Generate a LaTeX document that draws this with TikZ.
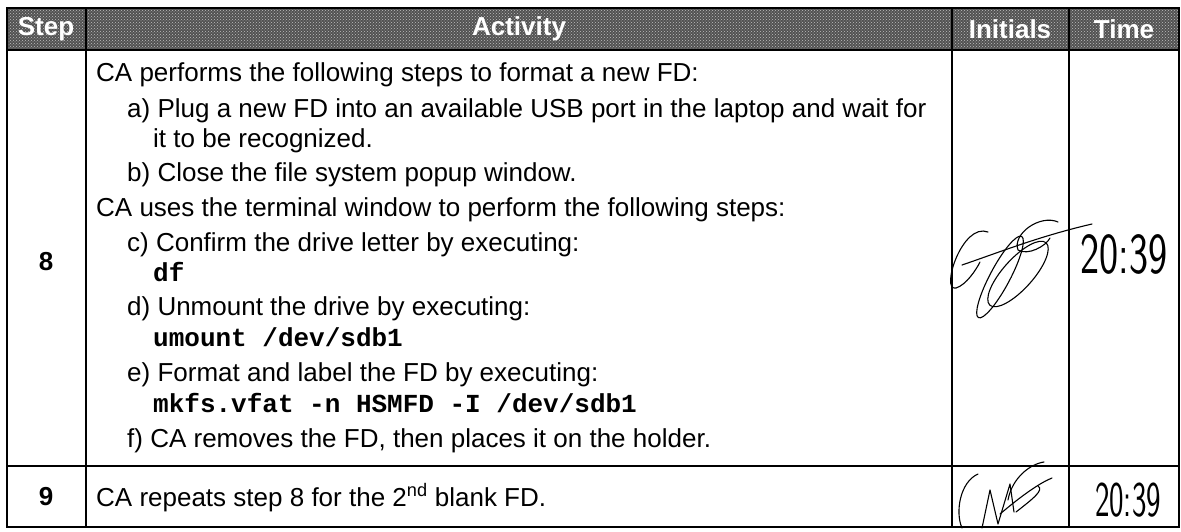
\documentclass[tikz,border=0pt]{standalone}
\usepackage{fontspec}
\setmainfont{Liberation Sans}
\setmonofont{Liberation Mono}
\usetikzlibrary{patterns}
\begin{document}
\begin{tikzpicture}[x=1pt,y=-1pt,
  body/.style={anchor=base west, inner sep=0pt, font=\fontsize{26}{30}\selectfont},
  code/.style={anchor=base west, inner sep=0pt, font=\fontsize{26}{30}\ttfamily\bfseries},
  head/.style={text=white, inner sep=0pt, font=\fontsize{26}{30}\bfseries},
  stepno/.style={inner sep=0pt, font=\fontsize{26}{30}\bfseries},
  rule/.style={line width=1.6pt},
  hand/.style={line width=1.1pt, line cap=round, line join=round},
  handtext/.style={inner sep=0pt, xscale=0.7, font=\fontsize{58}{58}\sffamily}]
\useasboundingbox (0,0) rectangle (1181,531);
% header band (halftone look)
\fill[black!68] (7,8) rectangle (1179,50);
\fill[pattern=crosshatch dots, pattern color=black!25] (7,8) rectangle (1179,50);
% table rules
\draw[rule] (7,8) rectangle (1179,527);
\draw[rule] (7,50) -- (1179,50);
\draw[rule] (7,466) -- (1179,466);
\draw[rule] (86,8) -- (86,527);
\draw[rule] (952,8) -- (952,527);
\draw[rule] (1069,8) -- (1069,527);
% header texts
\node[head] (hstep) at (46,29) {Step};
\node[head] (hact) at (519,29) {Activity};
\node[head] (hini) at (1010,29) {Initials};
\node[head] (htime) at (1124,29) {Time};
% step numbers
\node[stepno] (s8) at (46,262) {8};
\node[stepno] (s9) at (46,497) {9};
% activity of step 8
\node[body] (l1) at (96,81) {CA performs the following steps to format a new FD:};
\node[body] (l2) at (127,117) {a) Plug a new FD into an available USB port in the laptop and wait for};
\node[body] (l3) at (153,147) {it to be recognized.};
\node[body] (l4) at (127,181) {b) Close the file system popup window.};
\node[body] (l5) at (96,216) {CA uses the terminal window to perform the following steps:};
\node[body] (l6) at (127,251) {c) Confirm the drive letter by executing:};
\node[code] (l7) at (153,281) {df};
\node[body] (l8) at (127,315) {d) Unmount the drive by executing:};
\node[code] (l9) at (153,346) {umount /dev/sdb1};
\node[body] (l10) at (127,381) {e) Format and label the FD by executing:};
\node[code] (l11) at (153,412) {mkfs.vfat -n HSMFD -I /dev/sdb1};
\node[body] (l12) at (127,447) {f) CA removes the FD, then places it on the holder.};
% activity of step 9
\node[body] (r9) at (96,506) {CA repeats step 8 for the 2\textsuperscript{nd} blank FD.};
% handwritten times
\node[handtext] (t8) at (1124,254) {20:39};
\node[handtext, font=\fontsize{50}{50}\sffamily, xscale=0.88] (t9) at (1128,500) {20:39};
% handwritten initials, step 8
\draw[hand] (988,232) .. controls (962,222) and (940,292) .. (956,288)
            .. controls (966,285) and (976,270) .. (980,262);
\draw[hand] (962,265) .. controls (1000,252) and (1040,236) .. (1092,224);
\draw[hand] (1000,277) ellipse [x radius=46, y radius=10, rotate=62];
\draw[hand] (1018,274) ellipse [x radius=42, y radius=15, rotate=48];
\draw[hand] (1058,222) .. controls (1040,214) and (1012,234) .. (1018,250)
            .. controls (1028,256) and (1046,246) .. (1050,238);
% handwritten initials, step 9
\draw[hand] (978,474) .. controls (960,482) and (955,512) .. (962,528);
\draw[hand] (982,528) -- (990,490) -- (998,524) -- (1010,484) -- (1014,512);
\draw[hand] (1000,514) .. controls (1026,492) and (1042,482) .. (1052,478);
\draw[hand] (1008,500) .. controls (1012,478) and (1030,464) .. (1044,462);
\draw[hand] (1016,512) .. controls (1034,498) and (1044,490) .. (1038,486);
\end{tikzpicture}
\end{document}
